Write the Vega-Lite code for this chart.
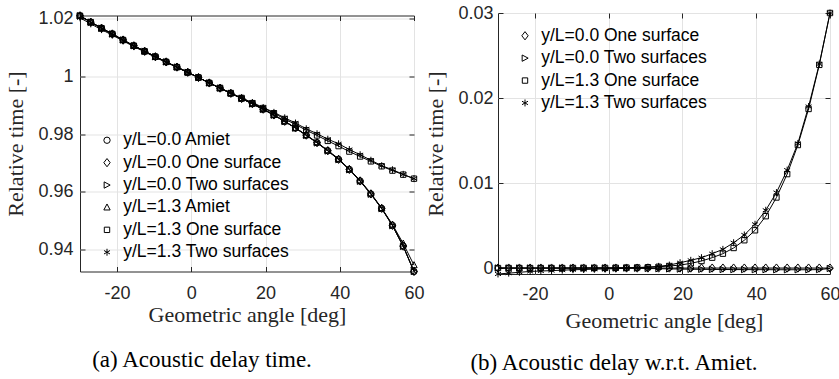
{
  "$schema": "https://vega.github.io/schema/vega-lite/v6.json",
  "background": "white",
  "padding": {"left": 4, "top": 3, "right": 0, "bottom": 2},
  "config": {
    "view": {"stroke": "#262626", "strokeWidth": 1, "fill": "white"},
    "font": "Liberation Sans",
    "axis": {
      "labelFont": "Liberation Sans", "labelFontSize": 18, "labelColor": "#262626",
      "titleFont": "Liberation Serif", "titleFontSize": 22, "titleFontWeight": "normal", "titleColor": "#262626",
      "domain": false, "gridColor": "#e3e3e3", "gridWidth": 1,
      "tickColor": "#262626", "tickSize": -5, "labelFlush": false, "labelOverlap": false
    },
    "legend": {
      "title": null, "padding": 0,
      "labelFont": "Liberation Sans", "labelFontSize": 17.5, "labelColor": "#000", "labelLimit": 400,
      "symbolSize": 40, "labelOffset": 7.5, "rowPadding": 3.4,
      "symbolStrokeWidth": 1, "symbolStrokeColor": "black", "symbolFillColor": "transparent"
    },
    "title": {"font": "Liberation Serif", "fontSize": 23, "fontWeight": "normal", "color": "#000"}
  },
  "datasets": {
    "a": [
      {"x":-30,"s":"y/L=0.0 Amiet","y":1.0211},{"x":-27.097,"s":"y/L=0.0 Amiet","y":1.0189},{"x":-24.194,"s":"y/L=0.0 Amiet","y":1.0168},{"x":-21.29,"s":"y/L=0.0 Amiet","y":1.0148},{"x":-18.387,"s":"y/L=0.0 Amiet","y":1.0127},{"x":-15.484,"s":"y/L=0.0 Amiet","y":1.0107},{"x":-12.581,"s":"y/L=0.0 Amiet","y":1.0088},{"x":-9.677,"s":"y/L=0.0 Amiet","y":1.0069},{"x":-6.774,"s":"y/L=0.0 Amiet","y":1.0051},{"x":-3.871,"s":"y/L=0.0 Amiet","y":1.0033},{"x":-0.968,"s":"y/L=0.0 Amiet","y":1.0015},{"x":1.935,"s":"y/L=0.0 Amiet","y":0.9997},{"x":4.839,"s":"y/L=0.0 Amiet","y":0.9978},{"x":7.742,"s":"y/L=0.0 Amiet","y":0.996},{"x":10.645,"s":"y/L=0.0 Amiet","y":0.9942},{"x":13.548,"s":"y/L=0.0 Amiet","y":0.9924},{"x":16.452,"s":"y/L=0.0 Amiet","y":0.9906},{"x":19.355,"s":"y/L=0.0 Amiet","y":0.9887},{"x":22.258,"s":"y/L=0.0 Amiet","y":0.9867},{"x":25.161,"s":"y/L=0.0 Amiet","y":0.9845},{"x":28.065,"s":"y/L=0.0 Amiet","y":0.9822},{"x":30.968,"s":"y/L=0.0 Amiet","y":0.9797},{"x":33.871,"s":"y/L=0.0 Amiet","y":0.9771},{"x":36.774,"s":"y/L=0.0 Amiet","y":0.9743},{"x":39.677,"s":"y/L=0.0 Amiet","y":0.9713},{"x":42.581,"s":"y/L=0.0 Amiet","y":0.9678},{"x":45.484,"s":"y/L=0.0 Amiet","y":0.9638},{"x":48.387,"s":"y/L=0.0 Amiet","y":0.9593},{"x":51.29,"s":"y/L=0.0 Amiet","y":0.9543},{"x":54.194,"s":"y/L=0.0 Amiet","y":0.9484},{"x":57.097,"s":"y/L=0.0 Amiet","y":0.9412},{"x":60,"s":"y/L=0.0 Amiet","y":0.9324},
      {"x":-30,"s":"y/L=0.0 One surface","y":1.0211},{"x":-27.097,"s":"y/L=0.0 One surface","y":1.0189},{"x":-24.194,"s":"y/L=0.0 One surface","y":1.0168},{"x":-21.29,"s":"y/L=0.0 One surface","y":1.0148},{"x":-18.387,"s":"y/L=0.0 One surface","y":1.0127},{"x":-15.484,"s":"y/L=0.0 One surface","y":1.0107},{"x":-12.581,"s":"y/L=0.0 One surface","y":1.0088},{"x":-9.677,"s":"y/L=0.0 One surface","y":1.0069},{"x":-6.774,"s":"y/L=0.0 One surface","y":1.0051},{"x":-3.871,"s":"y/L=0.0 One surface","y":1.0033},{"x":-0.968,"s":"y/L=0.0 One surface","y":1.0015},{"x":1.935,"s":"y/L=0.0 One surface","y":0.9997},{"x":4.839,"s":"y/L=0.0 One surface","y":0.9978},{"x":7.742,"s":"y/L=0.0 One surface","y":0.996},{"x":10.645,"s":"y/L=0.0 One surface","y":0.9942},{"x":13.548,"s":"y/L=0.0 One surface","y":0.9924},{"x":16.452,"s":"y/L=0.0 One surface","y":0.9906},{"x":19.355,"s":"y/L=0.0 One surface","y":0.9887},{"x":22.258,"s":"y/L=0.0 One surface","y":0.9867},{"x":25.161,"s":"y/L=0.0 One surface","y":0.9845},{"x":28.065,"s":"y/L=0.0 One surface","y":0.9822},{"x":30.968,"s":"y/L=0.0 One surface","y":0.9797},{"x":33.871,"s":"y/L=0.0 One surface","y":0.9771},{"x":36.774,"s":"y/L=0.0 One surface","y":0.9743},{"x":39.677,"s":"y/L=0.0 One surface","y":0.9713},{"x":42.581,"s":"y/L=0.0 One surface","y":0.9678},{"x":45.484,"s":"y/L=0.0 One surface","y":0.9638},{"x":48.387,"s":"y/L=0.0 One surface","y":0.9593},{"x":51.29,"s":"y/L=0.0 One surface","y":0.9543},{"x":54.194,"s":"y/L=0.0 One surface","y":0.9484},{"x":57.097,"s":"y/L=0.0 One surface","y":0.9412},{"x":60,"s":"y/L=0.0 One surface","y":0.9324},
      {"x":-30,"s":"y/L=0.0 Two surfaces","y":1.0211},{"x":-27.097,"s":"y/L=0.0 Two surfaces","y":1.0189},{"x":-24.194,"s":"y/L=0.0 Two surfaces","y":1.0168},{"x":-21.29,"s":"y/L=0.0 Two surfaces","y":1.0148},{"x":-18.387,"s":"y/L=0.0 Two surfaces","y":1.0127},{"x":-15.484,"s":"y/L=0.0 Two surfaces","y":1.0107},{"x":-12.581,"s":"y/L=0.0 Two surfaces","y":1.0088},{"x":-9.677,"s":"y/L=0.0 Two surfaces","y":1.0069},{"x":-6.774,"s":"y/L=0.0 Two surfaces","y":1.0051},{"x":-3.871,"s":"y/L=0.0 Two surfaces","y":1.0033},{"x":-0.968,"s":"y/L=0.0 Two surfaces","y":1.0015},{"x":1.935,"s":"y/L=0.0 Two surfaces","y":0.9997},{"x":4.839,"s":"y/L=0.0 Two surfaces","y":0.9978},{"x":7.742,"s":"y/L=0.0 Two surfaces","y":0.996},{"x":10.645,"s":"y/L=0.0 Two surfaces","y":0.9942},{"x":13.548,"s":"y/L=0.0 Two surfaces","y":0.9924},{"x":16.452,"s":"y/L=0.0 Two surfaces","y":0.9905},{"x":19.355,"s":"y/L=0.0 Two surfaces","y":0.9886},{"x":22.258,"s":"y/L=0.0 Two surfaces","y":0.9866},{"x":25.161,"s":"y/L=0.0 Two surfaces","y":0.9844},{"x":28.065,"s":"y/L=0.0 Two surfaces","y":0.9821},{"x":30.968,"s":"y/L=0.0 Two surfaces","y":0.9796},{"x":33.871,"s":"y/L=0.0 Two surfaces","y":0.977},{"x":36.774,"s":"y/L=0.0 Two surfaces","y":0.9742},{"x":39.677,"s":"y/L=0.0 Two surfaces","y":0.9712},{"x":42.581,"s":"y/L=0.0 Two surfaces","y":0.9677},{"x":45.484,"s":"y/L=0.0 Two surfaces","y":0.9637},{"x":48.387,"s":"y/L=0.0 Two surfaces","y":0.9592},{"x":51.29,"s":"y/L=0.0 Two surfaces","y":0.9542},{"x":54.194,"s":"y/L=0.0 Two surfaces","y":0.9483},{"x":57.097,"s":"y/L=0.0 Two surfaces","y":0.9411},{"x":60,"s":"y/L=0.0 Two surfaces","y":0.9324},
      {"x":-30,"s":"y/L=1.3 Amiet","y":1.0211},{"x":-27.097,"s":"y/L=1.3 Amiet","y":1.0189},{"x":-24.194,"s":"y/L=1.3 Amiet","y":1.0168},{"x":-21.29,"s":"y/L=1.3 Amiet","y":1.0148},{"x":-18.387,"s":"y/L=1.3 Amiet","y":1.0127},{"x":-15.484,"s":"y/L=1.3 Amiet","y":1.0107},{"x":-12.581,"s":"y/L=1.3 Amiet","y":1.0088},{"x":-9.677,"s":"y/L=1.3 Amiet","y":1.0069},{"x":-6.774,"s":"y/L=1.3 Amiet","y":1.0051},{"x":-3.871,"s":"y/L=1.3 Amiet","y":1.0033},{"x":-0.968,"s":"y/L=1.3 Amiet","y":1.0015},{"x":1.935,"s":"y/L=1.3 Amiet","y":0.9997},{"x":4.839,"s":"y/L=1.3 Amiet","y":0.9978},{"x":7.742,"s":"y/L=1.3 Amiet","y":0.996},{"x":10.645,"s":"y/L=1.3 Amiet","y":0.9942},{"x":13.548,"s":"y/L=1.3 Amiet","y":0.9924},{"x":16.452,"s":"y/L=1.3 Amiet","y":0.9906},{"x":19.355,"s":"y/L=1.3 Amiet","y":0.9887},{"x":22.258,"s":"y/L=1.3 Amiet","y":0.9867},{"x":25.161,"s":"y/L=1.3 Amiet","y":0.9845},{"x":28.065,"s":"y/L=1.3 Amiet","y":0.9822},{"x":30.968,"s":"y/L=1.3 Amiet","y":0.9797},{"x":33.871,"s":"y/L=1.3 Amiet","y":0.9772},{"x":36.774,"s":"y/L=1.3 Amiet","y":0.9744},{"x":39.677,"s":"y/L=1.3 Amiet","y":0.9715},{"x":42.581,"s":"y/L=1.3 Amiet","y":0.9679},{"x":45.484,"s":"y/L=1.3 Amiet","y":0.964},{"x":48.387,"s":"y/L=1.3 Amiet","y":0.9595},{"x":51.29,"s":"y/L=1.3 Amiet","y":0.9544},{"x":54.194,"s":"y/L=1.3 Amiet","y":0.9487},{"x":57.097,"s":"y/L=1.3 Amiet","y":0.9421},{"x":60,"s":"y/L=1.3 Amiet","y":0.9346},
      {"x":-30,"s":"y/L=1.3 One surface","y":1.0211},{"x":-27.097,"s":"y/L=1.3 One surface","y":1.0189},{"x":-24.194,"s":"y/L=1.3 One surface","y":1.0168},{"x":-21.29,"s":"y/L=1.3 One surface","y":1.0148},{"x":-18.387,"s":"y/L=1.3 One surface","y":1.0127},{"x":-15.484,"s":"y/L=1.3 One surface","y":1.0107},{"x":-12.581,"s":"y/L=1.3 One surface","y":1.0088},{"x":-9.677,"s":"y/L=1.3 One surface","y":1.0069},{"x":-6.774,"s":"y/L=1.3 One surface","y":1.0051},{"x":-3.871,"s":"y/L=1.3 One surface","y":1.0033},{"x":-0.968,"s":"y/L=1.3 One surface","y":1.0015},{"x":1.935,"s":"y/L=1.3 One surface","y":0.9997},{"x":4.839,"s":"y/L=1.3 One surface","y":0.9978},{"x":7.742,"s":"y/L=1.3 One surface","y":0.9961},{"x":10.645,"s":"y/L=1.3 One surface","y":0.9943},{"x":13.548,"s":"y/L=1.3 One surface","y":0.9926},{"x":16.452,"s":"y/L=1.3 One surface","y":0.9908},{"x":19.355,"s":"y/L=1.3 One surface","y":0.9891},{"x":22.258,"s":"y/L=1.3 One surface","y":0.9873},{"x":25.161,"s":"y/L=1.3 One surface","y":0.9853},{"x":28.065,"s":"y/L=1.3 One surface","y":0.9834},{"x":30.968,"s":"y/L=1.3 One surface","y":0.9814},{"x":33.871,"s":"y/L=1.3 One surface","y":0.9796},{"x":36.774,"s":"y/L=1.3 One surface","y":0.9777},{"x":39.677,"s":"y/L=1.3 One surface","y":0.9759},{"x":42.581,"s":"y/L=1.3 One surface","y":0.974},{"x":45.484,"s":"y/L=1.3 One surface","y":0.9723},{"x":48.387,"s":"y/L=1.3 One surface","y":0.9706},{"x":51.29,"s":"y/L=1.3 One surface","y":0.9689},{"x":54.194,"s":"y/L=1.3 One surface","y":0.9674},{"x":57.097,"s":"y/L=1.3 One surface","y":0.966},{"x":60,"s":"y/L=1.3 One surface","y":0.9646},
      {"x":-30,"s":"y/L=1.3 Two surfaces","y":1.0204},{"x":-27.097,"s":"y/L=1.3 Two surfaces","y":1.0183},{"x":-24.194,"s":"y/L=1.3 Two surfaces","y":1.0163},{"x":-21.29,"s":"y/L=1.3 Two surfaces","y":1.0144},{"x":-18.387,"s":"y/L=1.3 Two surfaces","y":1.0124},{"x":-15.484,"s":"y/L=1.3 Two surfaces","y":1.0104},{"x":-12.581,"s":"y/L=1.3 Two surfaces","y":1.0086},{"x":-9.677,"s":"y/L=1.3 Two surfaces","y":1.0067},{"x":-6.774,"s":"y/L=1.3 Two surfaces","y":1.0049},{"x":-3.871,"s":"y/L=1.3 Two surfaces","y":1.0032},{"x":-0.968,"s":"y/L=1.3 Two surfaces","y":1.0014},{"x":1.935,"s":"y/L=1.3 Two surfaces","y":0.9996},{"x":4.839,"s":"y/L=1.3 Two surfaces","y":0.9978},{"x":7.742,"s":"y/L=1.3 Two surfaces","y":0.996},{"x":10.645,"s":"y/L=1.3 Two surfaces","y":0.9943},{"x":13.548,"s":"y/L=1.3 Two surfaces","y":0.9926},{"x":16.452,"s":"y/L=1.3 Two surfaces","y":0.991},{"x":19.355,"s":"y/L=1.3 Two surfaces","y":0.9893},{"x":22.258,"s":"y/L=1.3 Two surfaces","y":0.9876},{"x":25.161,"s":"y/L=1.3 Two surfaces","y":0.9857},{"x":28.065,"s":"y/L=1.3 Two surfaces","y":0.9839},{"x":30.968,"s":"y/L=1.3 Two surfaces","y":0.9819},{"x":33.871,"s":"y/L=1.3 Two surfaces","y":0.9802},{"x":36.774,"s":"y/L=1.3 Two surfaces","y":0.9783},{"x":39.677,"s":"y/L=1.3 Two surfaces","y":0.9767},{"x":42.581,"s":"y/L=1.3 Two surfaces","y":0.9747},{"x":45.484,"s":"y/L=1.3 Two surfaces","y":0.9729},{"x":48.387,"s":"y/L=1.3 Two surfaces","y":0.971},{"x":51.29,"s":"y/L=1.3 Two surfaces","y":0.9691},{"x":54.194,"s":"y/L=1.3 Two surfaces","y":0.9677},{"x":57.097,"s":"y/L=1.3 Two surfaces","y":0.9661},{"x":60,"s":"y/L=1.3 Two surfaces","y":0.9646}
    ],
    "b": [
      {"x":-30,"s":"y/L=0.0 One surface","y":0},{"x":-27.097,"s":"y/L=0.0 One surface","y":0},{"x":-24.194,"s":"y/L=0.0 One surface","y":0},{"x":-21.29,"s":"y/L=0.0 One surface","y":0},{"x":-18.387,"s":"y/L=0.0 One surface","y":0},{"x":-15.484,"s":"y/L=0.0 One surface","y":0},{"x":-12.581,"s":"y/L=0.0 One surface","y":0},{"x":-9.677,"s":"y/L=0.0 One surface","y":0},{"x":-6.774,"s":"y/L=0.0 One surface","y":0},{"x":-3.871,"s":"y/L=0.0 One surface","y":0},{"x":-0.968,"s":"y/L=0.0 One surface","y":0},{"x":1.935,"s":"y/L=0.0 One surface","y":0},{"x":4.839,"s":"y/L=0.0 One surface","y":0},{"x":7.742,"s":"y/L=0.0 One surface","y":0},{"x":10.645,"s":"y/L=0.0 One surface","y":0},{"x":13.548,"s":"y/L=0.0 One surface","y":0},{"x":16.452,"s":"y/L=0.0 One surface","y":0},{"x":19.355,"s":"y/L=0.0 One surface","y":0},{"x":22.258,"s":"y/L=0.0 One surface","y":0},{"x":25.161,"s":"y/L=0.0 One surface","y":0},{"x":28.065,"s":"y/L=0.0 One surface","y":0},{"x":30.968,"s":"y/L=0.0 One surface","y":0},{"x":33.871,"s":"y/L=0.0 One surface","y":0},{"x":36.774,"s":"y/L=0.0 One surface","y":0},{"x":39.677,"s":"y/L=0.0 One surface","y":0},{"x":42.581,"s":"y/L=0.0 One surface","y":0},{"x":45.484,"s":"y/L=0.0 One surface","y":0},{"x":48.387,"s":"y/L=0.0 One surface","y":0},{"x":51.29,"s":"y/L=0.0 One surface","y":0},{"x":54.194,"s":"y/L=0.0 One surface","y":0},{"x":57.097,"s":"y/L=0.0 One surface","y":0},{"x":60,"s":"y/L=0.0 One surface","y":0},
      {"x":-30,"s":"y/L=0.0 Two surfaces","y":0},{"x":-27.097,"s":"y/L=0.0 Two surfaces","y":0},{"x":-24.194,"s":"y/L=0.0 Two surfaces","y":0},{"x":-21.29,"s":"y/L=0.0 Two surfaces","y":0},{"x":-18.387,"s":"y/L=0.0 Two surfaces","y":0},{"x":-15.484,"s":"y/L=0.0 Two surfaces","y":0},{"x":-12.581,"s":"y/L=0.0 Two surfaces","y":0},{"x":-9.677,"s":"y/L=0.0 Two surfaces","y":0},{"x":-6.774,"s":"y/L=0.0 Two surfaces","y":0},{"x":-3.871,"s":"y/L=0.0 Two surfaces","y":0},{"x":-0.968,"s":"y/L=0.0 Two surfaces","y":0},{"x":1.935,"s":"y/L=0.0 Two surfaces","y":0},{"x":4.839,"s":"y/L=0.0 Two surfaces","y":0},{"x":7.742,"s":"y/L=0.0 Two surfaces","y":-0.00002},{"x":10.645,"s":"y/L=0.0 Two surfaces","y":-0.00005},{"x":13.548,"s":"y/L=0.0 Two surfaces","y":-0.00008},{"x":16.452,"s":"y/L=0.0 Two surfaces","y":-0.0001},{"x":19.355,"s":"y/L=0.0 Two surfaces","y":-0.00012},{"x":22.258,"s":"y/L=0.0 Two surfaces","y":-0.00014},{"x":25.161,"s":"y/L=0.0 Two surfaces","y":-0.00015},{"x":28.065,"s":"y/L=0.0 Two surfaces","y":-0.00016},{"x":30.968,"s":"y/L=0.0 Two surfaces","y":-0.00017},{"x":33.871,"s":"y/L=0.0 Two surfaces","y":-0.00018},{"x":36.774,"s":"y/L=0.0 Two surfaces","y":-0.00018},{"x":39.677,"s":"y/L=0.0 Two surfaces","y":-0.00019},{"x":42.581,"s":"y/L=0.0 Two surfaces","y":-0.00019},{"x":45.484,"s":"y/L=0.0 Two surfaces","y":-0.0002},{"x":48.387,"s":"y/L=0.0 Two surfaces","y":-0.0002},{"x":51.29,"s":"y/L=0.0 Two surfaces","y":-0.0002},{"x":54.194,"s":"y/L=0.0 Two surfaces","y":-0.0002},{"x":57.097,"s":"y/L=0.0 Two surfaces","y":-0.00018},{"x":60,"s":"y/L=0.0 Two surfaces","y":-0.00005},
      {"x":-30,"s":"y/L=1.3 One surface","y":0},{"x":-27.097,"s":"y/L=1.3 One surface","y":0},{"x":-24.194,"s":"y/L=1.3 One surface","y":0},{"x":-21.29,"s":"y/L=1.3 One surface","y":0},{"x":-18.387,"s":"y/L=1.3 One surface","y":0},{"x":-15.484,"s":"y/L=1.3 One surface","y":0},{"x":-12.581,"s":"y/L=1.3 One surface","y":0},{"x":-9.677,"s":"y/L=1.3 One surface","y":0.00001},{"x":-6.774,"s":"y/L=1.3 One surface","y":0.00001},{"x":-3.871,"s":"y/L=1.3 One surface","y":0.00002},{"x":-0.968,"s":"y/L=1.3 One surface","y":0.00002},{"x":1.935,"s":"y/L=1.3 One surface","y":0.00003},{"x":4.839,"s":"y/L=1.3 One surface","y":0.00005},{"x":7.742,"s":"y/L=1.3 One surface","y":0.00007},{"x":10.645,"s":"y/L=1.3 One surface","y":0.0001},{"x":13.548,"s":"y/L=1.3 One surface","y":0.00015},{"x":16.452,"s":"y/L=1.3 One surface","y":0.00024},{"x":19.355,"s":"y/L=1.3 One surface","y":0.00035},{"x":22.258,"s":"y/L=1.3 One surface","y":0.00055},{"x":25.161,"s":"y/L=1.3 One surface","y":0.00083},{"x":28.065,"s":"y/L=1.3 One surface","y":0.00122},{"x":30.968,"s":"y/L=1.3 One surface","y":0.00169},{"x":33.871,"s":"y/L=1.3 One surface","y":0.00236},{"x":36.774,"s":"y/L=1.3 One surface","y":0.00327},{"x":39.677,"s":"y/L=1.3 One surface","y":0.00444},{"x":42.581,"s":"y/L=1.3 One surface","y":0.0061},{"x":45.484,"s":"y/L=1.3 One surface","y":0.0083},{"x":48.387,"s":"y/L=1.3 One surface","y":0.01105},{"x":51.29,"s":"y/L=1.3 One surface","y":0.01447},{"x":54.194,"s":"y/L=1.3 One surface","y":0.01871},{"x":57.097,"s":"y/L=1.3 One surface","y":0.0239},{"x":60,"s":"y/L=1.3 One surface","y":0.03},
      {"x":-30,"s":"y/L=1.3 Two surfaces","y":-0.0007},{"x":-27.097,"s":"y/L=1.3 Two surfaces","y":-0.0006},{"x":-24.194,"s":"y/L=1.3 Two surfaces","y":-0.0005},{"x":-21.29,"s":"y/L=1.3 Two surfaces","y":-0.0004},{"x":-18.387,"s":"y/L=1.3 Two surfaces","y":-0.00035},{"x":-15.484,"s":"y/L=1.3 Two surfaces","y":-0.0003},{"x":-12.581,"s":"y/L=1.3 Two surfaces","y":-0.00025},{"x":-9.677,"s":"y/L=1.3 Two surfaces","y":-0.0002},{"x":-6.774,"s":"y/L=1.3 Two surfaces","y":-0.00017},{"x":-3.871,"s":"y/L=1.3 Two surfaces","y":-0.00013},{"x":-0.968,"s":"y/L=1.3 Two surfaces","y":-0.0001},{"x":1.935,"s":"y/L=1.3 Two surfaces","y":-0.00007},{"x":4.839,"s":"y/L=1.3 Two surfaces","y":-0.00003},{"x":7.742,"s":"y/L=1.3 Two surfaces","y":0.00003},{"x":10.645,"s":"y/L=1.3 Two surfaces","y":0.0001},{"x":13.548,"s":"y/L=1.3 Two surfaces","y":0.0002},{"x":16.452,"s":"y/L=1.3 Two surfaces","y":0.00035},{"x":19.355,"s":"y/L=1.3 Two surfaces","y":0.00063},{"x":22.258,"s":"y/L=1.3 Two surfaces","y":0.00091},{"x":25.161,"s":"y/L=1.3 Two surfaces","y":0.00122},{"x":28.065,"s":"y/L=1.3 Two surfaces","y":0.00169},{"x":30.968,"s":"y/L=1.3 Two surfaces","y":0.0022},{"x":33.871,"s":"y/L=1.3 Two surfaces","y":0.00298},{"x":36.774,"s":"y/L=1.3 Two surfaces","y":0.00389},{"x":39.677,"s":"y/L=1.3 Two surfaces","y":0.00515},{"x":42.581,"s":"y/L=1.3 Two surfaces","y":0.0068},{"x":45.484,"s":"y/L=1.3 Two surfaces","y":0.00888},{"x":48.387,"s":"y/L=1.3 Two surfaces","y":0.01152},{"x":51.29,"s":"y/L=1.3 Two surfaces","y":0.01466},{"x":54.194,"s":"y/L=1.3 Two surfaces","y":0.019},{"x":57.097,"s":"y/L=1.3 Two surfaces","y":0.024},{"x":60,"s":"y/L=1.3 Two surfaces","y":0.03}
    ]
  },
  "spacing": 84,
  "bounds": "flush",
  "center": true,
  "resolve": {"scale": {"x": "independent", "y": "independent", "shape": "independent"}, "legend": {"shape": "independent"}},
  "hconcat": [
    {
      "width": 334, "height": 256,
      "data": {"name": "a"},
      "title": {"text": "(a) Acoustic delay time.", "orient": "bottom", "anchor": "middle", "offset": 23, "dx": -45},
      "layer": [
        {
          "mark": {"type": "line", "color": "black", "strokeWidth": 1},
          "encoding": {
            "x": {"field": "x", "type": "quantitative", "scale": {"domain": [-30, 60], "nice": false, "zero": false},
              "axis": {"values": [-20, 0, 20, 40, 60], "labelExpr": "'' + datum.value", "title": "Geometric angle [deg]", "grid": true, "labelPadding": 18, "titlePadding": 2}},
            "y": {"field": "y", "type": "quantitative", "scale": {"domain": [0.9324, 1.0212], "nice": false, "zero": false},
              "axis": {"values": [0.94, 0.96, 0.98, 1, 1.02], "format": "~g", "title": "Relative time [-]", "grid": true, "labelPadding": 12, "titlePadding": 10}},
            "detail": {"field": "s"}
          }
        },
        {
          "mark": {"type": "point", "color": "black", "filled": false, "size": 40, "strokeWidth": 1, "opacity": 1},
          "encoding": {
            "x": {"field": "x", "type": "quantitative", "axis": {"orient": "top", "values": [-20, 0, 20, 40, 60], "labels": false, "grid": false, "title": null}},
            "y": {"field": "y", "type": "quantitative", "axis": {"orient": "right", "values": [0.94, 0.96, 0.98, 1, 1.02], "labels": false, "grid": false, "title": null}},
            "shape": {"field": "s", "type": "nominal",
              "scale": {"domain": ["y/L=0.0 Amiet", "y/L=0.0 One surface", "y/L=0.0 Two surfaces", "y/L=1.3 Amiet", "y/L=1.3 One surface", "y/L=1.3 Two surfaces"],
                "range": ["circle", "M0,-1.3L1,0L0,1.3L-1,0Z", "M-0.9,-1L1,0L-0.9,1Z", "M0,-1.1L1,0.8L-1,0.8Z", "M-0.85,-0.85L0.85,-0.85L0.85,0.85L-0.85,0.85Z", "M0,-1.1L0,1.1M-0.95,-0.55L0.95,0.55M-0.95,0.55L0.95,-0.55"]},
              "legend": {"orient": "bottom-left", "offset": 10, "symbolOffset": 8.25}
            }
          }
        }
      ],
      "resolve": {"axis": {"x": "independent", "y": "independent"}}
    },
    {
      "width": 332, "height": 261,
      "data": {"name": "b"},
      "title": {"text": "(b) Acoustic delay w.r.t. Amiet.", "orient": "bottom", "anchor": "middle", "offset": 21, "dx": -50},
      "layer": [
        {
          "mark": {"type": "line", "color": "black", "strokeWidth": 1},
          "encoding": {
            "x": {"field": "x", "type": "quantitative", "scale": {"domain": [-30, 60], "nice": false, "zero": false},
              "axis": {"values": [-20, 0, 20, 40, 60], "labelExpr": "'' + datum.value", "title": "Geometric angle [deg]", "grid": true, "labelPadding": 16, "titlePadding": 7}},
            "y": {"field": "y", "type": "quantitative", "scale": {"domain": [-0.0007, 0.03], "nice": false, "zero": false},
              "axis": {"values": [0, 0.01, 0.02, 0.03], "format": "~g", "title": "Relative time [-]", "grid": true, "labelPadding": 10, "titlePadding": 10}},
            "detail": {"field": "s"}
          }
        },
        {
          "mark": {"type": "point", "color": "black", "filled": false, "size": 40, "strokeWidth": 1, "opacity": 1},
          "encoding": {
            "x": {"field": "x", "type": "quantitative", "axis": {"orient": "top", "values": [-20, 0, 20, 40, 60], "labels": false, "grid": false, "title": null}},
            "y": {"field": "y", "type": "quantitative", "axis": {"orient": "right", "values": [0, 0.01, 0.02, 0.03], "labels": false, "grid": false, "title": null}},
            "shape": {"field": "s", "type": "nominal",
              "scale": {"domain": ["y/L=0.0 One surface", "y/L=0.0 Two surfaces", "y/L=1.3 One surface", "y/L=1.3 Two surfaces"],
                "range": ["M0,-1.3L1,0L0,1.3L-1,0Z", "M-0.9,-1L1,0L-0.9,1Z", "M-0.85,-0.85L0.85,-0.85L0.85,0.85L-0.85,0.85Z", "M0,-1.1L0,1.1M-0.95,-0.55L0.95,0.55M-0.95,0.55L0.95,-0.55"]},
              "legend": {"orient": "top-left", "offset": 14, "symbolOffset": 4.25}
            }
          }
        }
      ],
      "resolve": {"axis": {"x": "independent", "y": "independent"}}
    }
  ]
}
